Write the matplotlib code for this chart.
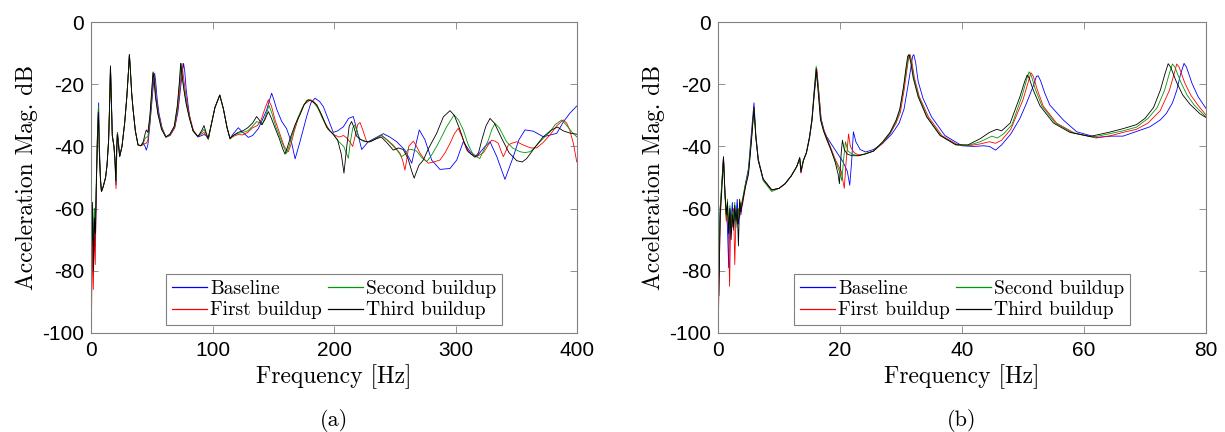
import numpy as np
import matplotlib
matplotlib.use("Agg")
import matplotlib.pyplot as plt

plt.rcParams['axes.unicode_minus'] = False

# ---- (a) 0-400 Hz, (frequency, dB) pairs ----
base_a = [(0,-43),(0.6,-76),(1.3,-62),(2.0,-80),(2.8,-60),(3.6,-72),(4.4,-53),(5.3,-36),(6.3,-26),(7.0,-41),(7.8,-50),(8.6,-54.5),(10,-53),(12,-50),(13.2,-46),(14.5,-38),(15.5,-25),(16.1,-14.5),(16.8,-25),(17.6,-36.5),(18.9,-40),(19.8,-44),(20.6,-52.4),(21.2,-42),(21.8,-35.5),(22.5,-38),(23.6,-43.3),(25.5,-40),(27.7,-32.5),(29.5,-24),(30.8,-16),(31.6,-10.5),(32.5,-16),(33.5,-23),(34.6,-28),(36.5,-35),(38.7,-39.5),(41,-39.8),(43,-39),(44.5,-40),(45.5,-41.2),(46.8,-39.5),(48.5,-33),(50.5,-24),(51.6,-19),(52.4,-16.5),(53.2,-19),(54.5,-25),(56,-29.5),(58.5,-34),(61.7,-37),(65,-36.5),(68.9,-34),(71.5,-29),(73.5,-22),(75.2,-16),(76.2,-13.3),(77.2,-16),(78.4,-22),(81,-30),(84,-35),(88,-37),(91,-36.5),(93,-36.2),(94.7,-36.5),(96.6,-37.7),(99,-33),(102,-27.5),(106,-23.5),(109,-28),(112,-34),(114.4,-37.4),(117,-36),(121.2,-34),(125,-35.5),(129.5,-37.1),(133,-36.5),(137.7,-34.3),(141,-31.5),(144.6,-28.3),(147,-25),(148.7,-22.9),(150.5,-25),(152.8,-28),(157,-32),(161,-34.3),(165.2,-39),(168,-44),(172,-38.5),(177.5,-30.4),(181,-26),(184.4,-24.5),(188,-25.5),(191.2,-27.2),(195,-31),(199.4,-35.5),(203,-35),(207.7,-33.7),(212,-31),(215.9,-30.4),(219,-35),(222.8,-41),(228.2,-38.5),(233,-37.5),(240.6,-35.9),(246,-37),(251.6,-38.5),(258.4,-41.2),(264,-45.4),(267,-40),(270.2,-34.7),(274.9,-37.9),(280.4,-44.4),(287.2,-47.4),(295.5,-47.1),(301,-44.4),(306.4,-38.5),(312,-41.7),(317.4,-43.3),(324.3,-40),(328.4,-38.5),(334,-43.3),(340.7,-50.6),(347.6,-43.3),(352,-38),(357.2,-34.7),(364,-35.1),(372.3,-36.9),(383.3,-35.8),(389,-32),(394,-29.4),(399.8,-27)]

first_a = [(0,-45),(0.5,-92),(1.2,-70),(1.9,-86),(2.7,-66),(3.5,-78),(4.3,-55),(5.2,-38),(6.1,-28),(6.9,-42),(7.8,-51),(8.6,-54.5),(10,-53),(12,-50),(13.2,-46),(14.5,-38),(15.4,-25),(16.0,-14.5),(16.7,-25),(17.5,-36.5),(18.9,-40),(19.8,-46),(20.6,-53.6),(21.2,-42),(21.8,-35.5),(22.6,-39),(23.6,-43.2),(25.5,-40),(27.7,-32.5),(29.5,-24),(30.8,-16),(31.6,-10.5),(32.5,-16),(33.5,-23),(34.6,-28),(36.5,-35),(38.7,-39.5),(41,-39.8),(43,-39.5),(44.5,-39),(45.5,-39),(46.8,-38),(48.5,-32),(50.3,-22.5),(51.5,-16.3),(52.3,-18),(53.5,-24),(55.5,-29.5),(58.6,-34.5),(62,-37),(65.5,-36.3),(69,-33.8),(71.8,-27),(73.7,-19),(74.9,-13.3),(75.9,-17),(77.5,-22),(79.2,-26.5),(81.6,-31),(84.5,-35),(88,-36.8),(91,-36),(93,-35.5),(94.7,-36.5),(96.6,-37.7),(99,-33),(102,-27.5),(106,-23.5),(109,-28),(112,-34),(114.4,-37.6),(117,-36.8),(121,-36.2),(125,-36.3),(129,-35.5),(133,-34),(137,-33.3),(140,-31.5),(143,-28),(146,-25),(148.5,-27),(151.5,-31.5),(155.5,-36),(159,-40),(162.4,-41.7),(164.5,-39.5),(167,-35.5),(171,-30.5),(175.5,-26.5),(180.8,-25),(184,-25.8),(188,-28.5),(192,-32),(196.5,-35),(200,-36.2),(204,-37),(208,-36.5),(211,-37.5),(213,-38.5),(215.4,-40),(217.5,-36.5),(219.5,-33),(221.4,-32.3),(223.5,-34.5),(226.9,-38.5),(229.6,-38.5),(235,-37.5),(239,-36.5),(244,-38),(248.8,-39.6),(254.3,-42.2),(256.5,-44.5),(258.4,-47.6),(260,-44),(261.5,-40),(265.3,-38.3),(268,-40),(270.8,-42.2),(274,-44),(277.6,-45.4),(282,-45),(287.2,-44.4),(291.5,-42),(295.5,-39),(299,-36),(302.3,-34.2),(305.5,-37),(309.2,-41.2),(313,-42.5),(317.4,-43.3),(323,-42),(327,-39.5),(329.8,-38),(332.5,-38.3),(335.2,-39),(337.5,-41.5),(339.4,-43.3),(341.5,-41.5),(343.5,-39.5),(346.2,-39),(350.4,-38.5),(354.5,-39.3),(358.6,-40),(362,-40.5),(366.8,-40.5),(372,-38.8),(377.8,-36.3),(383,-33.5),(388.7,-31.5),(391.5,-32.5),(394,-34.7),(397,-39),(399.8,-45)]

second_a = [(0,-48),(0.6,-66),(1.3,-60),(2.0,-75),(2.8,-60),(3.6,-65),(4.4,-50),(5.3,-36),(6.1,-27),(6.9,-42),(7.8,-50.5),(8.6,-54.5),(10,-53),(12,-50),(13.2,-46),(14.5,-38),(15.4,-25),(16.0,-14),(16.7,-25),(17.5,-36.5),(18.9,-40),(19.8,-45),(20.5,-51.5),(21.1,-42),(21.7,-35.8),(22.5,-39),(23.6,-43.2),(25.5,-40),(27.7,-32.5),(29.5,-24),(30.8,-16),(31.6,-10.5),(32.5,-16),(33.5,-23),(34.6,-28),(36.5,-35),(38.7,-39.5),(41,-39.8),(43,-39),(44.5,-37.5),(45.5,-37),(46.8,-37),(48.5,-31),(50.1,-22),(51.2,-16),(52,-18),(53.2,-24),(55.2,-29.5),(58.3,-34.5),(61.7,-37),(65,-36.2),(68.7,-33.6),(71.3,-27),(73,-19),(74.1,-13.3),(75.1,-17),(76.8,-22),(78.6,-26.5),(81.2,-31),(84,-35),(88,-36.8),(91,-35.5),(93,-34.5),(94.7,-36),(96.5,-37.5),(99,-33),(102,-27.5),(106,-23.5),(109,-28),(112,-34),(114.4,-37.6),(117,-36.5),(121,-35.8),(125,-35.5),(129,-35),(133,-33.5),(136.5,-32),(139,-32.5),(141,-33),(143.5,-30.5),(146.5,-26.8),(149,-29.5),(152,-33.5),(156,-37.5),(159,-40.5),(161,-42.2),(163,-40),(165.5,-36.5),(170,-31),(174,-27.5),(177.5,-25.2),(179.7,-25),(183,-25.8),(186.5,-27.5),(190.5,-31),(195,-34.5),(199.4,-36),(204,-38.5),(208,-40),(210,-42),(211.8,-43.8),(213.5,-38.5),(215.5,-34),(217.3,-33.1),(219.5,-36),(221.4,-37.7),(225,-38.5),(229.6,-38.5),(235,-37.3),(239,-36.3),(244,-38),(248.8,-40),(252.5,-41.5),(255.6,-43.3),(258.5,-42.5),(261,-41),(264,-41),(268,-41.5),(272,-43.5),(276.3,-44.9),(280,-43),(284.5,-40),(288.5,-37),(292.7,-33.7),(298.8,-29.9),(302.5,-31.5),(306.4,-34.7),(310.5,-39.5),(314.7,-42.8),(320,-43.9),(323.5,-41),(327,-38),(330,-34.5),(332.5,-32.6),(336,-34),(342,-38.5),(347,-40.5),(353,-41.7),(357,-42),(361.5,-41.7),(366,-40),(372,-37.5),(377.8,-35.3),(382,-33),(387.4,-31.5),(392,-33.5),(396,-35.5),(400,-37)]

third_a = [(0,-44),(0.6,-72),(1.3,-58),(2.0,-80),(2.8,-63),(3.6,-68),(4.4,-52),(5.3,-38),(6.1,-29),(6.9,-43),(7.8,-51),(8.6,-54.5),(10,-53),(12,-50),(13.2,-46),(14.5,-38),(15.4,-25),(16.0,-14.3),(16.7,-25),(17.5,-36.5),(18.9,-40),(19.8,-45),(20.4,-51),(21.0,-42),(21.6,-36),(22.4,-39),(23.6,-43.2),(25.5,-40),(27.7,-32.5),(29.5,-24),(30.8,-16),(31.6,-10.5),(32.5,-16),(33.5,-23),(34.6,-28),(36.5,-35),(38.7,-39.5),(41,-39.8),(43,-38.5),(44.5,-36),(45.5,-34.7),(46.8,-35.5),(48.5,-30),(50.0,-22),(51.0,-16.3),(51.8,-18),(53,-24),(55,-29.5),(58,-34.5),(61.5,-37),(65,-36),(68.5,-33.5),(71,-27),(72.8,-19),(73.8,-13.3),(74.8,-17),(76.5,-22),(78.4,-26.5),(81,-31),(84,-35),(88,-36.8),(91,-35),(93,-33.3),(94.7,-35.5),(96.3,-37.4),(99,-33),(102,-27.5),(106,-23.5),(109,-28),(112,-34),(114.4,-37.4),(117,-36.5),(121,-35.5),(125,-35),(129,-34),(133,-32.5),(136.3,-30.4),(138.5,-31.5),(140.5,-33),(143,-31.5),(146,-28.8),(148.5,-31),(151.4,-34),(155,-37.5),(158,-41),(159.7,-42.5),(161.5,-40.5),(163.8,-37.5),(168,-33),(172,-29.8),(175.5,-26.5),(178.8,-25),(182,-25.5),(185.8,-26.6),(190,-30),(194,-33.8),(199,-36),(203,-38),(206,-42.5),(208.2,-48.6),(210.5,-40),(212.5,-33.5),(214.5,-32),(216.5,-34),(218.6,-36.7),(222,-37.8),(226.9,-38.5),(229.6,-38.5),(235,-37.5),(239,-37),(244,-39),(248.8,-41.2),(253,-40.5),(257,-41),(261,-44),(264,-48),(266,-50.2),(268,-48),(270,-46),(273.5,-44.4),(278,-40.5),(284.5,-35.8),(290,-30.5),(295.5,-28.5),(299,-30),(303.7,-34.7),(307,-38.5),(310.5,-41.7),(316,-43.5),(319,-42),(321.6,-38),(325,-33.5),(328.4,-31),(332,-32.5),(338,-37.4),(344,-42),(350.4,-44.6),(355,-45),(358.6,-43.9),(365,-40.5),(372,-37),(379,-34.7),(384,-33.8),(388.7,-35),(394,-35.7),(400,-36.1)]

# ---- (b) 0-80 Hz ----
base_b = [(0.0,-68),(0.15,-82),(0.35,-60),(0.6,-53),(0.9,-43.3),(1.15,-56),(1.35,-61),(1.55,-66),(1.75,-79),(1.95,-60),(2.15,-64),(2.35,-58),(2.55,-67),(2.75,-61),(2.95,-63),(3.15,-57),(3.35,-65),(3.55,-59),(3.75,-62),(4.0,-58),(4.5,-52),(5.0,-47),(5.5,-35),(5.9,-26),(6.2,-36),(6.6,-44),(7.4,-50.5),(8.8,-54),(10.0,-53.5),(11.0,-52),(12.0,-49.5),(12.9,-46.5),(13.4,-44),(13.6,-48.5),(14.0,-44.5),(14.5,-42),(15.0,-37.5),(15.4,-32),(15.8,-23),(16.2,-16),(16.5,-22),(16.9,-31),(17.4,-35),(17.8,-36.8),(18.5,-39),(19.5,-42),(20.5,-45),(21.2,-48),(21.6,-52.5),(21.9,-45),(22.2,-35.3),(22.6,-38.5),(23.3,-41),(24.2,-41.8),(25.5,-41),(27.0,-39),(28.5,-36),(29.7,-32.5),(30.5,-28),(31.1,-21),(31.6,-15),(31.9,-11),(32.1,-10.5),(32.4,-13),(32.8,-19),(33.6,-24.5),(35.0,-30.5),(37.2,-36.5),(40.0,-39.8),(42.0,-40),(43.5,-39.8),(44.5,-40),(45.5,-41.2),(46.5,-39.5),(48.0,-36),(49.5,-31),(50.6,-26),(51.6,-21),(52.2,-17.5),(52.5,-17.3),(52.9,-19),(53.6,-23),(54.4,-26.7),(56.6,-31.5),(58.8,-35.3),(62.1,-37.1),(64.5,-36.7),(66.4,-36.7),(68.6,-35.2),(70.8,-33.7),(72.5,-31.5),(73.5,-29.4),(74.5,-26),(75.2,-22),(75.8,-17),(76.4,-13.3),(76.8,-14.5),(77.7,-19.7),(78.7,-24),(80.0,-27.8)]

first_b = [(0.0,-75),(0.1,-92),(0.35,-65),(0.6,-53),(0.9,-43.3),(1.15,-56),(1.35,-64),(1.55,-60),(1.75,-70),(1.9,-85),(2.1,-62),(2.35,-66),(2.55,-60),(2.75,-78),(2.95,-62),(3.15,-65),(3.35,-60),(3.55,-63),(3.75,-58),(4.0,-59),(4.5,-53),(5.0,-48),(5.5,-37),(5.9,-27.5),(6.2,-37),(6.6,-44.5),(7.4,-50.5),(8.8,-54),(10.0,-53.5),(11.0,-52),(12.0,-49.5),(12.9,-46.5),(13.4,-44),(13.6,-48.5),(14.0,-44.5),(14.5,-42),(15.0,-37),(15.4,-31.5),(15.8,-22),(16.2,-15),(16.5,-22),(16.9,-31.5),(17.4,-35),(17.8,-37),(18.5,-40.5),(19.3,-44.5),(20.2,-48),(20.7,-53.5),(21.0,-45),(21.4,-36),(21.7,-40),(22.3,-42),(23.0,-42.7),(24.0,-42.5),(25.5,-41.5),(27.0,-39),(28.2,-36),(29.2,-32.5),(29.9,-29),(30.5,-22),(31.0,-15),(31.3,-11),(31.5,-10.5),(31.8,-13),(32.2,-18),(33.0,-24),(34.5,-30.5),(36.7,-36.5),(39.3,-39.5),(41.0,-39.8),(43.0,-39.2),(44.5,-38.5),(45.5,-39),(46.5,-38),(48.0,-34.5),(50.0,-25),(50.9,-19),(51.3,-16.3),(51.7,-17.5),(52.3,-21.5),(53.3,-27),(55.5,-32.5),(58.5,-35.8),(62.0,-37.3),(64.5,-36.5),(66.4,-35.5),(68.6,-34.5),(70.5,-32.5),(72.5,-28.5),(74.0,-22),(74.8,-16.5),(75.2,-13.5),(75.6,-14.5),(76.5,-19.5),(77.5,-23.5),(78.7,-26.8),(80.0,-29.9)]

second_b = [(0.0,-70),(0.15,-80),(0.35,-60),(0.6,-52),(0.9,-44),(1.15,-55),(1.35,-63),(1.55,-57),(1.75,-66),(1.95,-59),(2.15,-68),(2.35,-61),(2.55,-64),(2.75,-58),(2.95,-66),(3.15,-60),(3.35,-63),(3.55,-58),(3.75,-60),(4.0,-57),(4.5,-52),(5.0,-48),(5.5,-37),(5.9,-28),(6.2,-37),(6.6,-44.5),(7.4,-51),(8.8,-54.5),(10.0,-53.5),(11.0,-52),(12.0,-49.5),(12.9,-46.5),(13.4,-44),(13.6,-47.5),(14.0,-44.5),(14.5,-42),(15.0,-37),(15.4,-31),(15.8,-21),(16.1,-14.2),(16.4,-21),(16.8,-31),(17.3,-35),(17.8,-37.8),(18.5,-41),(19.2,-44.5),(19.9,-48),(20.3,-51),(20.6,-44),(20.9,-38.5),(21.3,-41.5),(22.0,-42.5),(23.0,-43),(24.0,-42.5),(25.5,-41.5),(27.0,-38.7),(28.2,-35.8),(29.2,-32),(29.8,-28.5),(30.4,-21.5),(30.9,-15),(31.2,-11),(31.4,-10.5),(31.7,-13),(32.1,-18),(32.9,-24),(34.3,-30.5),(36.5,-36.5),(39.0,-39.5),(41.0,-39.7),(43.0,-38.5),(44.9,-36.7),(45.8,-37.3),(46.8,-36),(48.2,-33),(49.8,-24),(50.6,-18.5),(51.0,-16),(51.4,-17.5),(52.0,-21.5),(53.1,-27),(55.3,-32.5),(58.0,-35.5),(61.5,-37),(64.0,-36),(66.4,-35),(68.6,-33.8),(70.5,-31),(72.0,-27.5),(73.2,-22),(74.0,-16.5),(74.5,-13.5),(74.9,-14.5),(75.9,-19.5),(76.9,-23.5),(78.1,-26.8),(80.0,-30.5)]

third_b = [(0.0,-72),(0.15,-88),(0.35,-62),(0.6,-55),(0.9,-43.5),(1.15,-55),(1.35,-62),(1.55,-58),(1.75,-68),(1.95,-60),(2.15,-70),(2.35,-62),(2.55,-66),(2.75,-59),(2.95,-64),(3.15,-60),(3.35,-72),(3.55,-57),(3.75,-61),(4.0,-58),(4.5,-53),(5.0,-49),(5.5,-38),(5.9,-27.5),(6.2,-37),(6.6,-44.5),(7.4,-50.5),(8.8,-54),(10.0,-53.5),(11.0,-52),(12.0,-49.5),(12.9,-46.5),(13.4,-43.5),(13.6,-48),(14.0,-44.5),(14.5,-42),(15.0,-37),(15.4,-31.5),(15.8,-22),(16.1,-15),(16.4,-22),(16.8,-31.5),(17.3,-35),(17.8,-37.5),(18.5,-41),(19.2,-45),(19.7,-49),(19.9,-52),(20.2,-42),(20.4,-38),(20.7,-41),(21.2,-42.5),(22.0,-43),(23.0,-43),(24.0,-42.5),(25.5,-41.5),(27.0,-38.5),(28.2,-35.5),(29.2,-31.5),(29.8,-28),(30.4,-21),(30.8,-15),(31.1,-11),(31.3,-10.5),(31.6,-13),(32.0,-18),(32.8,-24),(34.2,-30.5),(36.4,-36.5),(39.0,-39.5),(41.0,-39.5),(43.0,-37.5),(44.5,-35.5),(45.7,-34.5),(46.5,-35),(47.9,-32.5),(49.5,-24),(50.3,-19),(50.7,-17),(51.0,-18),(51.7,-22),(52.8,-27),(55.0,-32.5),(57.7,-35.5),(61.0,-36.8),(64.0,-35.5),(66.4,-34.3),(68.6,-33),(70.0,-31),(71.4,-27.5),(72.5,-22),(73.3,-16.5),(73.8,-13.4),(74.2,-14.5),(75.2,-19.5),(76.2,-23.5),(77.4,-26.5),(79.0,-29.5),(80.0,-30.7)]

labels = ['Baseline', 'First buildup', 'Second buildup', 'Third buildup']
colors = ['#0000ff', '#ff0000', '#009900', '#000000']
yticks = [0, -20, -40, -60, -80, -100]

serif = 'cmr10'
tickfont = 'Liberation Sans'
edge = '#808080'

fig = plt.figure(figsize=(12.25, 4.32), dpi=100)
ax1 = fig.add_axes([91/1225, 1-333/432, 486/1225, 311/432])
ax2 = fig.add_axes([718/1225, 1-333/432, 488/1225, 311/432])

panels = [(ax1, [base_a, first_a, second_a, third_a], [0, 100, 200, 300, 400], 400, '(a)'),
          (ax2, [base_b, first_b, second_b, third_b], [0, 20, 40, 60, 80], 80, '(b)')]

for ax, series, xt, xmax, cap in panels:
    lines = []
    for s, c, lab in zip(series, colors, labels):
        d = np.array(s)
        l, = ax.plot(d[:, 0], d[:, 1], color=c, lw=0.6, label=lab)
        lines.append(l)
    ax.set_xlim(0, xmax)
    ax.set_ylim(-100, 0)
    ax.set_xticks(xt)
    ax.set_yticks(yticks)
    ax.tick_params(direction='in', top=True, right=True, length=5, width=0.6,
                   color=edge, labelsize=15)
    ax.tick_params(axis='x', pad=6)
    ax.tick_params(axis='y', pad=5)
    for t in ax.get_xticklabels() + ax.get_yticklabels():
        t.set_fontfamily(tickfont)
    for sp in ax.spines.values():
        sp.set_color(edge)
        sp.set_linewidth(0.8)
    ax.set_xlabel('Frequency [Hz]', fontfamily=serif, fontsize=17, labelpad=3)
    ax.set_ylabel('Acceleration Mag. dB', fontfamily=serif, fontsize=17, labelpad=3)
    leg = ax.legend(handles=lines, ncol=2, loc='lower center', fancybox=False,
                    prop={'family': serif, 'size': 14}, handlelength=1.8,
                    handletextpad=0.15, columnspacing=0.3, borderpad=0.3,
                    labelspacing=0.2, borderaxespad=0.4, framealpha=1)
    leg.get_frame().set_edgecolor(edge)
    leg.get_frame().set_linewidth(0.8)
    for h, c in zip(leg.get_lines(), colors):
        h.set_color(c)
        h.set_linewidth(0.9)
    pos = ax.get_position()
    fig.text(pos.x0 + pos.width/2, 1-420/432, cap, ha='center', va='center',
             fontfamily=serif, fontsize=16)

fig.savefig('out.png', dpi=100)
